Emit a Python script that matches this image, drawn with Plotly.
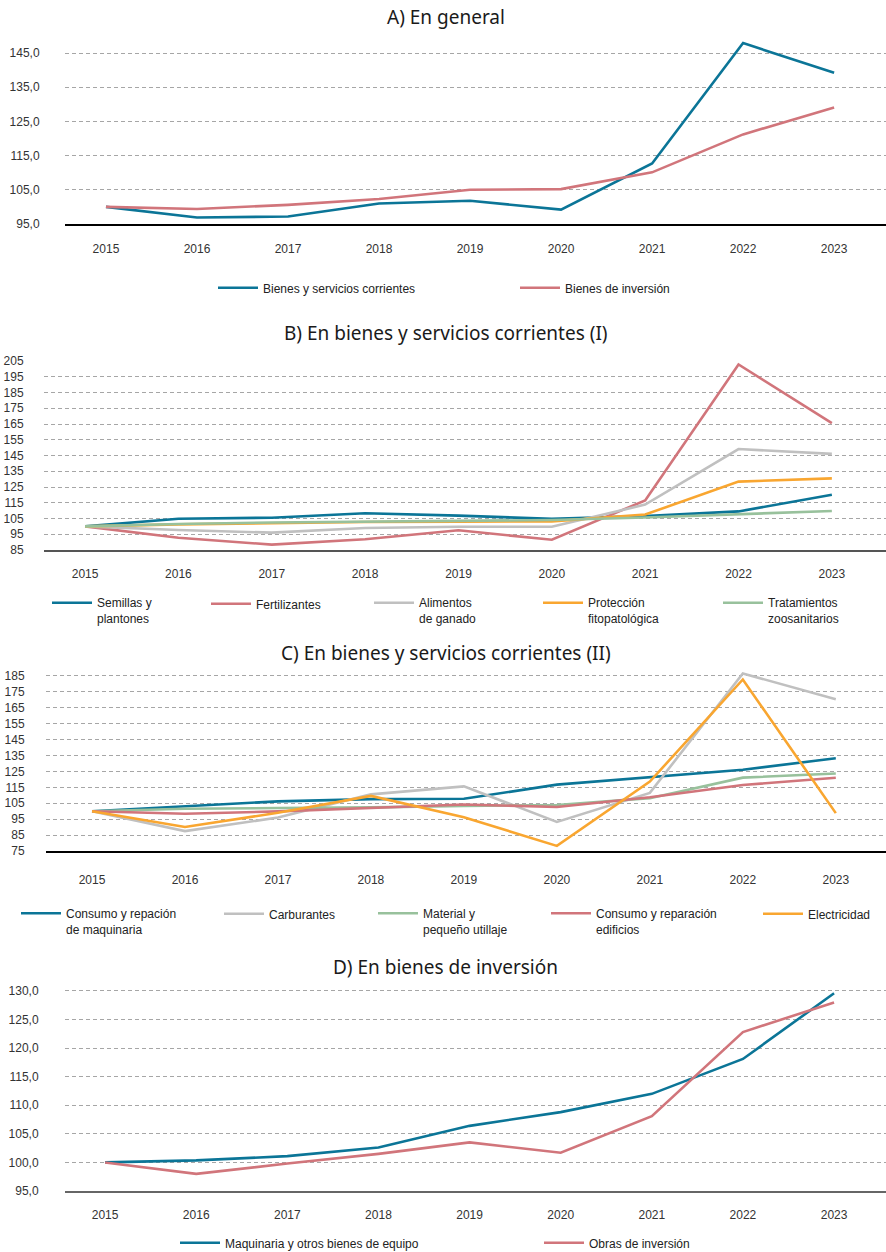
import plotly.graph_objects as go

# ---------------- data ----------------
years = ["2015", "2016", "2017", "2018", "2019", "2020", "2021", "2022", "2023"]

# A) En general
a_corrientes = [100.0, 96.9, 97.2, 101.0, 101.8, 99.2, 112.7, 147.9, 139.2]
a_inversion = [100.0, 99.4, 100.6, 102.3, 105.0, 105.2, 110.1, 121.2, 129.1]

# B) En bienes y servicios corrientes (I)
b_semillas = [100.0, 104.8, 105.5, 108.3, 106.8, 104.8, 106.5, 109.5, 120.1]
b_fertilizantes = [100.0, 92.8, 88.4, 91.8, 97.5, 91.5, 116.5, 202.8, 165.5]
b_alimentos = [100.0, 97.7, 96.0, 99.0, 99.8, 99.8, 113.8, 149.1, 146.0]
b_proteccion = [100.0, 101.3, 102.0, 102.8, 103.0, 103.2, 107.5, 128.4, 130.5]
b_tratamientos = [100.0, 101.5, 102.5, 103.0, 103.3, 104.0, 105.6, 107.6, 109.8]

# C) En bienes y servicios corrientes (II)
c_maquinaria = [100.0, 103.2, 106.2, 107.6, 107.8, 116.7, 121.4, 126.1, 133.3]
c_carburantes = [100.0, 87.5, 96.0, 110.6, 115.6, 93.3, 111.5, 186.6, 170.4]
c_material = [100.0, 101.6, 102.0, 102.4, 103.3, 103.9, 108.2, 121.1, 123.7]
c_edificios = [100.0, 98.4, 99.9, 102.2, 104.2, 102.7, 108.8, 116.5, 121.0]
c_electricidad = [100.0, 90.1, 99.0, 109.6, 96.2, 78.2, 118.6, 182.8, 98.8]

# D) En bienes de inversión
d_maquinaria = [100.0, 100.35, 101.1, 102.6, 106.4, 108.8, 112.0, 118.1, 129.6]
d_obras = [100.0, 98.0, 99.8, 101.5, 103.5, 101.7, 108.1, 122.8, 128.0]

titles = ["A) En general", "B) En bienes y servicios corrientes (I)",
          "C) En bienes y servicios corrientes (II)", "D) En bienes de inversión"]

ticks_a = [95, 105, 115, 125, 135, 145]
ticks_b = [85, 95, 105, 115, 125, 135, 145, 155, 165, 175, 185, 195, 205]
ticks_c = [75, 85, 95, 105, 115, 125, 135, 145, 155, 165, 175, 185]
ticks_d = [95, 100, 105, 110, 115, 120, 125, 130]

# ---------------- style ----------------
BLUE = "#0B7597"
RED = "#D1757B"
GRAY = "#C0C0C0"
ORANGE = "#F9A630"
GREEN = "#98C19C"

W, H = 886, 1252


def py(p):
    return 1 - p / H


def px(p):
    return p / W


TICKFONT = dict(family="Liberation Sans, Arial, sans-serif", size=12, color="#333333")
TEXTGAP = 50  # legend x to text start (itemwidth 40 + 2*5)

fig = go.Figure()

# (series, name, color, panel index, legend text x, legend y center)
traces = [
    (a_corrientes, "Bienes y servicios corrientes", BLUE, 1, 263, 288),
    (a_inversion, "Bienes de inversión", RED, 1, 565, 288),
    (b_semillas, "Semillas y<br>plantones", BLUE, 2, 97, 611),
    (b_fertilizantes, "Fertilizantes", RED, 2, 256, 604),
    (b_alimentos, "Alimentos<br>de ganado", GRAY, 2, 419, 611),
    (b_proteccion, "Protección<br>fitopatológica", ORANGE, 2, 588, 611),
    (b_tratamientos, "Tratamientos<br>zoosanitarios", GREEN, 2, 768, 611),
    (c_maquinaria, "Consumo y repación<br>de maquinaria", BLUE, 3, 66, 921.5),
    (c_carburantes, "Carburantes", GRAY, 3, 269, 914),
    (c_material, "Material y<br>pequeño utillaje", GREEN, 3, 423, 921.5),
    (c_edificios, "Consumo y reparación<br>edificios", RED, 3, 596, 921.5),
    (c_electricidad, "Electricidad", ORANGE, 3, 808, 914),
    (d_maquinaria, "Maquinaria y otros bienes de equipo", BLUE, 4, 225, 1243),
    (d_obras, "Obras de inversión", RED, 4, 589, 1243),
]

layout_legends = {}
for i, (vals, name, color, panel, lx, ly) in enumerate(traces):
    lid = "legend" if i == 0 else f"legend{i + 1}"
    sfx = "" if panel == 1 else str(panel)
    fig.add_trace(go.Scatter(
        x=years, y=vals, name=name, mode="lines",
        line=dict(color=color, width=2.6),
        xaxis="x" + sfx, yaxis="y" + sfx,
        legend=lid, showlegend=True,
    ))
    layout_legends[lid] = dict(
        x=px(lx - TEXTGAP), xanchor="left",
        y=py(ly), yanchor="middle",
        orientation="h", bgcolor="rgba(0,0,0,0)",
        font=dict(family="Liberation Sans, Arial, sans-serif", size=12, color="#222222"),
        itemwidth=40, valign="top", tracegroupgap=0,
    )

# panel geometry
panels = [
    (65, [-0.45, 8.57], (224, 35.9), [95, 150], ticks_a, ".1f", 22, 13, "#000000", 1.5),
    (44, [-0.44, 8.58], (550, 361), [85, 205], ticks_b, "d", 17, 12, "#555555", 2),
    (46, [-0.495, 8.54], (851, 671.2), [75, 188], ticks_c, "d", 18, 17, "#000000", 1.5),
    (65, [-0.44, 8.57], (1191, 988.1), [95, 130.5], ticks_d, ".1f", 23, 12, "#666666", 2),
]

layout_axes = {}
for k, (xl, xr, (yb, yt), yr, tv, tf, ygap, xgap, bcol, bw) in enumerate(panels):
    sfx = "" if k == 0 else str(k + 1)
    layout_axes["xaxis" + sfx] = dict(
        domain=[px(xl), 1], range=xr, type="category",
        anchor="y" + sfx, showgrid=False, zeroline=False,
        showline=True, linecolor=bcol, linewidth=bw,
        ticks="outside", ticklen=xgap, tickcolor="rgba(0,0,0,0)",
        tickfont=TICKFONT, fixedrange=True,
    )
    layout_axes["yaxis" + sfx] = dict(
        domain=[py(yb), py(yt)], range=yr, anchor="x" + sfx,
        tickmode="array", tickvals=tv, tickformat=tf,
        showgrid=True, gridcolor="#A6A6A6", gridwidth=1, griddash="4px,3px",
        zeroline=False, showline=False,
        ticks="outside", ticklen=ygap, tickcolor="rgba(0,0,0,0)",
        tickfont=TICKFONT, fixedrange=True,
    )

title_y = [17, 333, 653, 967]
annotations = [
    dict(text=t, x=px(446), y=py(ty), xref="paper", yref="paper",
         xanchor="center", yanchor="middle", showarrow=False,
         font=dict(family="Noto Sans, sans-serif", size=19, color="#1A1A1A"))
    for t, ty in zip(titles, title_y)
]

fig.update_layout(
    width=W, height=H,
    margin=dict(l=0, r=0, t=0, b=0, pad=0, autoexpand=False),
    paper_bgcolor="white", plot_bgcolor="white",
    separators=",.",
    annotations=annotations,
    hovermode=False,
    **layout_axes,
    **layout_legends,
)

fig.write_html(
    "out.html",
    config={"displayModeBar": False, "staticPlot": False},
    post_script="document.body.style.margin='0';document.body.style.overflow='hidden';",
)
